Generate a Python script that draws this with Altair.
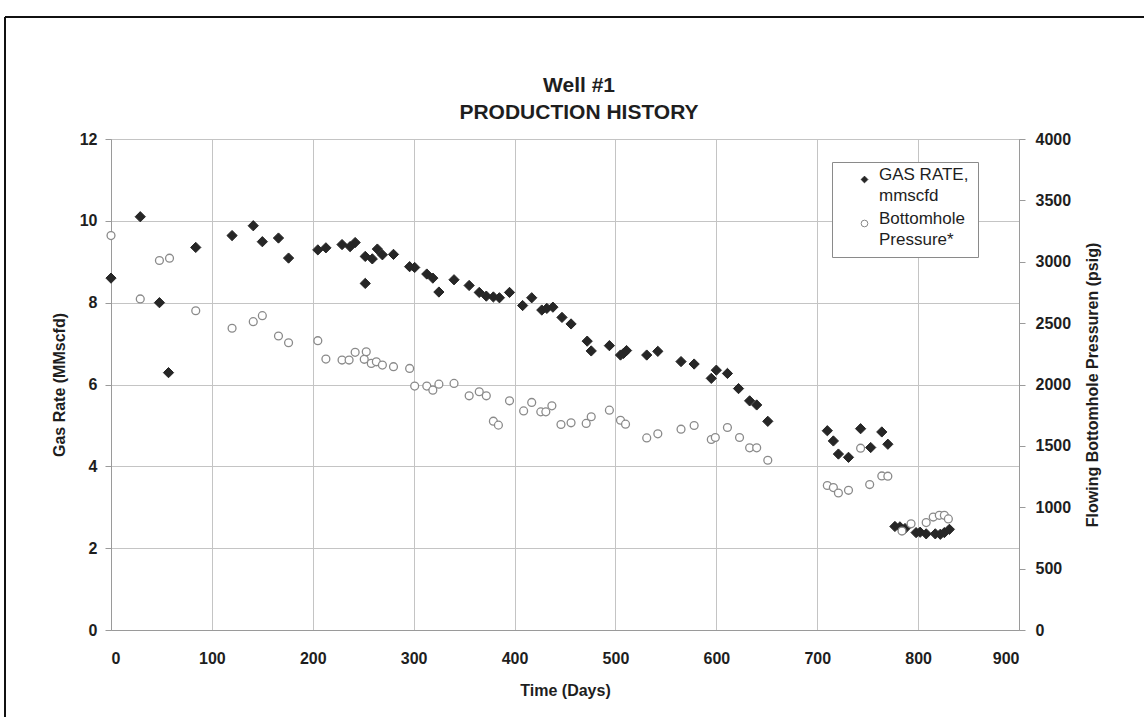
import altair as alt
import pandas as pd

# ---- data ----
gas_days = [0, 29, 48, 57, 84, 120, 141, 150, 166, 176, 205, 213, 229, 237, 242,
            252, 252, 259, 264, 269, 280, 296, 301, 313, 319, 325, 340, 355, 365,
            372, 379, 385, 395, 408, 417, 427, 432, 438, 447, 456, 472, 476, 494,
            505, 508, 511, 531, 542, 565, 578, 595, 600, 611, 622, 633, 640, 651,
            710, 716, 721, 731, 743, 753, 764, 770, 777, 782, 787, 798, 802, 808,
            817, 822, 826, 831]
gas_rate = [8.6, 10.1, 8.0, 6.29, 9.35, 9.64, 9.88, 9.49, 9.58, 9.09, 9.29, 9.34,
            9.42, 9.37, 9.47, 8.47, 9.13, 9.07, 9.31, 9.17, 9.18, 8.88, 8.86, 8.70,
            8.60, 8.26, 8.56, 8.42, 8.25, 8.16, 8.14, 8.12, 8.25, 7.93, 8.12, 7.82,
            7.86, 7.89, 7.64, 7.48, 7.06, 6.82, 6.95, 6.72, 6.76, 6.83, 6.72, 6.81,
            6.56, 6.50, 6.15, 6.35, 6.27, 5.90, 5.60, 5.50, 5.10, 4.87, 4.62, 4.30,
            4.22, 4.92, 4.46, 4.84, 4.54, 2.53, 2.52, 2.48, 2.38, 2.39, 2.35, 2.35,
            2.34, 2.38, 2.46]

bhp_days = [0, 29, 48, 58, 84, 120, 141, 150, 166, 176, 205, 213, 229, 236, 242,
            251, 253, 258, 263, 269, 280, 296, 301, 313, 319, 325, 340, 355, 365,
            372, 379, 384, 395, 409, 417, 426, 431, 437, 446, 456, 471, 476, 494,
            505, 510, 531, 542, 565, 578, 595, 599, 611, 623, 633, 640, 651, 710,
            716, 721, 731, 743, 752, 764, 770, 784, 793, 808, 815, 821, 826, 830]
bhp_psig = [3213, 2697, 3010, 3029, 2601, 2458, 2512, 2561, 2395, 2340, 2357, 2207,
            2199, 2199, 2262, 2205, 2267, 2172, 2185, 2158, 2145, 2131, 1987, 1987,
            1954, 2003, 2009, 1908, 1941, 1908, 1701, 1669, 1867, 1785, 1854, 1777,
            1777, 1826, 1674, 1688, 1683, 1737, 1791, 1709, 1677, 1565, 1598, 1636,
            1666, 1552, 1568, 1650, 1568, 1484, 1484, 1383, 1177, 1160, 1116, 1138,
            1481, 1185, 1255, 1253, 806, 865, 875, 920, 934, 934, 905]

x_ticks = [0, 100, 200, 300, 400, 500, 600, 700, 800, 900]
gas_ticks = [0, 2, 4, 6, 8, 10, 12]
bhp_ticks = [0, 500, 1000, 1500, 2000, 2500, 3000, 3500, 4000]

GAS = "GAS RATE, mmscfd"
BHP = "Bottomhole Pressure*"
series_names = [GAS, BHP]

gas_df = pd.DataFrame({"day": gas_days, "value": gas_rate, "series": GAS})
bhp_df = pd.DataFrame({"day": bhp_days, "value": bhp_psig, "series": BHP})

FONT = "Liberation Sans"
TXT = "#1e1e1e"
GRID = "#c4c4c4"
AX = "#9a9a9a"

legend = alt.Legend(
    title=None, orient="none", legendX=721, legendY=23,
    fillColor="white", strokeColor="#8a8a8a", padding=9,
    labelFont=FONT, labelFontSize=17, labelFontWeight="normal", labelColor=TXT,
    labelLimit=300, labelBaseline="alphabetic", labelOffset=6,
    labelExpr="datum.label == 'GAS RATE, mmscfd' ? ['GAS RATE,', 'mmscfd'] : ['Bottomhole', 'Pressure*']",
    symbolSize=45, symbolStrokeWidth=1, symbolOffset=15, rowPadding=5,
)

fill_enc = alt.Fill("series:N", scale=alt.Scale(domain=series_names, range=["#262626", "#ffffff"]), legend=legend)
stroke_enc = alt.Stroke("series:N", scale=alt.Scale(domain=series_names, range=["#262626", "#8a8a8a"]), legend=legend)
shape_enc = alt.Shape("series:N", scale=alt.Scale(domain=series_names, range=["diamond", "circle"]), legend=legend)

x_enc = alt.X(
    "day:Q",
    scale=alt.Scale(domain=[0, 900], nice=False, zero=False),
    axis=alt.Axis(values=x_ticks, title="Time (Days)", grid=True, gridColor=GRID,
                  domainColor=AX, ticks=False, labelPadding=20, titlePadding=16),
)

gas_layer = alt.Chart(gas_df).mark_point(size=105, opacity=1, strokeWidth=1).encode(
    x=x_enc,
    y=alt.Y("value:Q", scale=alt.Scale(domain=[0, 12], nice=False),
            axis=alt.Axis(values=gas_ticks, title="Gas Rate (MMscfd)", grid=True,
                          gridColor=GRID, domainColor=AX, tickColor=AX, tickSize=6,
                          labelPadding=8, titlePadding=12)),
    fill=fill_enc, stroke=stroke_enc, shape=shape_enc,
)

bhp_layer = alt.Chart(bhp_df).mark_point(size=62, opacity=1, strokeWidth=1.3).encode(
    x=x_enc,
    y=alt.Y("value:Q", scale=alt.Scale(domain=[0, 4000], nice=False),
            axis=alt.Axis(values=bhp_ticks, orient="right", format="d",
                          title="Flowing Bottomhole Pressuren (psig)", titleAngle=270,
                          titleBaseline="top",
                          grid=False, domainColor=AX, tickColor=AX, tickSize=6,
                          labelPadding=10, titlePadding=14)),
    fill=fill_enc, stroke=stroke_enc, shape=shape_enc,
)

# outer page frame (decoration)
frame_top = alt.Chart(pd.DataFrame({"k": [0]})).mark_rule(color="#111", strokeWidth=2).encode(
    x=alt.value(-106), x2=alt.value(1040), y=alt.value(-122))
frame_left = alt.Chart(pd.DataFrame({"k": [0]})).mark_rule(color="#111", strokeWidth=2).encode(
    x=alt.value(-106), y=alt.value(-122), y2=alt.value(580))

chart = alt.layer(gas_layer, bhp_layer, frame_top, frame_left).resolve_scale(
    y="independent"
).properties(
    width=908, height=491,
    title=alt.TitleParams(["Well #1", "PRODUCTION HISTORY"], font=FONT, fontSize=21,
                          fontWeight="bold", color=TXT, anchor="middle", dx=14,
                          dy=107, lineHeight=27, offset=0),
    autosize=alt.AutoSizeParams(type="none"),
    padding={"left": 111, "top": 139, "right": 125, "bottom": 87},
    background="white",
).configure(
    style={"guide-label": {"lineHeight": 21}}
).configure_view(
    stroke=AX, strokeWidth=1
).configure_axis(
    labelFont=FONT, labelFontSize=16, labelFontWeight="bold", labelColor=TXT,
    titleFont=FONT, titleFontSize=16, titleFontWeight="bold", titleColor=TXT,
)

chart.save("out.html", embed_options={"renderer": "svg", "actions": False})
